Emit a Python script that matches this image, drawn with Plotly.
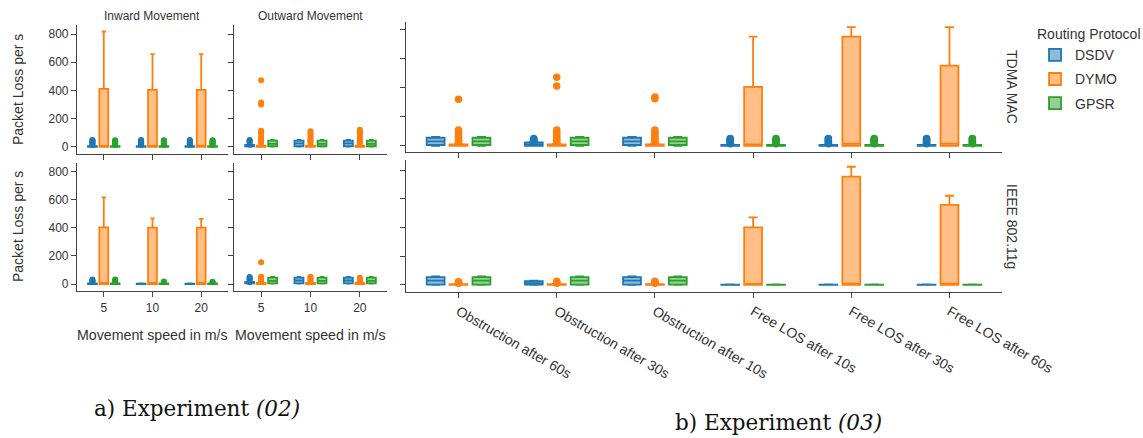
import plotly.graph_objects as go

W, H = 1143, 438

protocols = ["DSDV", "DYMO", "GPSR"]
line_colors = {"DSDV": "#1f77b4", "DYMO": "#ff7f0e", "GPSR": "#2ca02c"}
fill_colors = {"DSDV": "rgba(31,119,180,0.5)", "DYMO": "rgba(255,127,14,0.5)",
               "GPSR": "rgba(44,160,44,0.5)"}

speeds = ["5", "10", "20"]
scenarios = ["Obstruction after 60s", "Obstruction after 30s", "Obstruction after 10s",
             "Free LOS after 10s", "Free LOS after 30s", "Free LOS after 60s"]

# Experiment (02), TDMA MAC, inward movement (one entry per speed)
e02_tdma_in = {
    "DSDV": dict(q1=[0, 0, 0], med=[2, 2, 2], q3=[5, 5, 5], lo=[0, 0, 0], hi=[8, 8, 8],
                 out=[[14, 20, 26, 32, 38, 44, 50], [14, 20, 26, 32, 38, 44, 50], [14, 20, 26, 32, 38, 44, 50]]),
    "DYMO": dict(q1=[0, 0, 0], med=[4, 4, 4], q3=[412, 405, 405], lo=[0, 0, 0], hi=[818, 658, 658],
                 out=[[], [], []]),
    "GPSR": dict(q1=[0, 0, 0], med=[2, 2, 2], q3=[5, 5, 5], lo=[0, 0, 0], hi=[8, 8, 8],
                 out=[[14, 20, 26, 32, 38, 44, 48], [14, 20, 26, 32, 38, 44, 48], [14, 20, 26, 32, 38, 44, 48]]),
}
# Experiment (02), TDMA MAC, outward movement
e02_tdma_out = {
    "DSDV": dict(q1=[5, 5, 5], med=[10, 25, 25], q3=[15, 45, 45], lo=[0, 3, 3], hi=[20, 50, 50],
                 out=[[28, 36, 44, 50], [], []]),
    "DYMO": dict(q1=[0, 0, 0], med=[5, 5, 5], q3=[10, 10, 10], lo=[0, 0, 0], hi=[18, 18, 18],
                 out=[[28, 38, 48, 58, 70, 95, 108, 115, 300, 315, 472],
                      [28, 38, 48, 58, 70, 88, 100, 112],
                      [28, 38, 48, 58, 70, 88, 100, 112, 122]]),
    "GPSR": dict(q1=[5, 5, 5], med=[22, 22, 22], q3=[45, 45, 45], lo=[2, 2, 2], hi=[50, 50, 50],
                 out=[[], [], []]),
}
# Experiment (02), IEEE 802.11g, inward movement
e02_ieee_in = {
    "DSDV": dict(q1=[0, 0, 0], med=[2, 1, 1], q3=[5, 3, 3], lo=[0, 0, 0], hi=[8, 4, 4],
                 out=[[14, 20, 26, 32], [], []]),
    "DYMO": dict(q1=[0, 0, 0], med=[4, 4, 4], q3=[405, 403, 403], lo=[0, 0, 0], hi=[618, 468, 465],
                 out=[[], [], []]),
    "GPSR": dict(q1=[0, 0, 0], med=[2, 2, 2], q3=[5, 5, 5], lo=[0, 0, 0], hi=[8, 8, 8],
                 out=[[14, 20, 26, 32], [12, 18], [12, 16]]),
}
# Experiment (02), IEEE 802.11g, outward movement
e02_ieee_out = {
    "DSDV": dict(q1=[5, 5, 5], med=[10, 25, 25], q3=[15, 45, 45], lo=[0, 3, 3], hi=[20, 50, 50],
                 out=[[28, 36, 44, 50], [], []]),
    "DYMO": dict(q1=[0, 0, 0], med=[3, 3, 3], q3=[8, 8, 8], lo=[0, 0, 0], hi=[12, 12, 12],
                 out=[[20, 28, 36, 44, 52, 155], [20, 28, 36, 44, 52], [20, 28, 36, 44]]),
    "GPSR": dict(q1=[5, 5, 5], med=[22, 22, 22], q3=[45, 45, 45], lo=[2, 2, 2], hi=[50, 50, 50],
                 out=[[], [], []]),
}
# Experiment (03), TDMA MAC (one entry per scenario)
e03_tdma = {
    "DSDV": dict(q1=[5, 0, 5, 0, 0, 0], med=[30, 10, 30, 2, 2, 2], q3=[55, 23, 55, 5, 5, 5],
                 lo=[0, 0, 0, 0, 0, 0], hi=[60, 28, 60, 8, 8, 8],
                 out=[[], [34, 42, 50], [], [14, 22, 30, 38, 46, 50],
                      [14, 22, 30, 38, 46, 50], [14, 22, 30, 38, 46, 50]]),
    "DYMO": dict(q1=[0, 0, 0, 0, 0, 0], med=[4, 4, 4, 10, 15, 15], q3=[10, 10, 10, 405, 750, 550],
                 lo=[0, 0, 0, 0, 0, 0], hi=[15, 15, 15, 750, 815, 815],
                 out=[[25, 38, 52, 66, 80, 95, 108, 320],
                      [25, 38, 52, 66, 80, 95, 108, 410, 470],
                      [25, 38, 52, 66, 80, 95, 108, 322, 335], [], [], []]),
    "GPSR": dict(q1=[5, 5, 5, 0, 0, 0], med=[30, 30, 30, 2, 2, 2], q3=[55, 55, 55, 5, 5, 5],
                 lo=[0, 0, 0, 0, 0, 0], hi=[60, 60, 60, 8, 8, 8],
                 out=[[], [], [], [14, 22, 30, 38, 46, 50],
                      [14, 22, 30, 38, 46, 50], [14, 22, 30, 38, 46, 50]]),
}
# Experiment (03), IEEE 802.11g
e03_ieee = {
    "DSDV": dict(q1=[3, 2, 3, 0, 0, 0], med=[30, 12, 30, 1, 1, 1], q3=[55, 27, 55, 3, 3, 3],
                 lo=[0, 0, 0, 0, 0, 0], hi=[60, 30, 60, 4, 4, 4],
                 out=[[], [], [], [], [], []]),
    "DYMO": dict(q1=[0, 0, 0, 0, 0, 0], med=[2, 2, 2, 8, 10, 10], q3=[5, 5, 5, 401, 754, 557],
                 lo=[0, 0, 0, 0, 0, 0], hi=[8, 8, 8, 471, 823, 621],
                 out=[[12, 18, 22], [12, 18, 26], [12, 18, 26], [], [], []]),
    "GPSR": dict(q1=[3, 3, 3, 0, 0, 0], med=[30, 30, 30, 1, 1, 1], q3=[55, 55, 55, 3, 3, 3],
                 lo=[0, 0, 0, 0, 0, 0], hi=[60, 60, 60, 4, 4, 4],
                 out=[[], [], [], [], [], []]),
}

panels = [
    (e02_tdma_in, speeds, "x", "y", 6),
    (e02_tdma_out, speeds, "x2", "y2", 6),
    (e02_ieee_in, speeds, "x3", "y3", 6),
    (e02_ieee_out, speeds, "x4", "y4", 6),
    (e03_tdma, scenarios, "x5", "y5", 7.5),
    (e03_ieee, scenarios, "x6", "y6", 7.5),
]

fig = go.Figure()
for pi, (data, cats, xa, ya, msize) in enumerate(panels):
    # boxes from the summary statistics
    for p in protocols:
        d = data[p]
        fig.add_trace(go.Box(
            x=cats, q1=d["q1"], median=d["med"], q3=d["q3"],
            lowerfence=d["lo"], upperfence=d["hi"],
            name=p, legendgroup=p, showlegend=(pi == 0),
            offsetgroup=p, alignmentgroup="g%d" % pi,
            boxpoints=False,
            line=dict(color=line_colors[p], width=1.8),
            fillcolor=fill_colors[p], whiskerwidth=0.5,
            xaxis=xa, yaxis=ya, hoverinfo="skip",
        ))
    # outlier points, placed in the same slot as their box
    for p in protocols:
        d = data[p]
        xs = [c for c, vals in zip(cats, d["out"]) for _ in vals]
        ys = [v for vals in d["out"] for v in vals]
        if not ys:
            continue
        fig.add_trace(go.Box(
            x=xs, y=ys, name=p, legendgroup=p, showlegend=False,
            offsetgroup=p, alignmentgroup="g%d" % pi,
            boxpoints="all", pointpos=0, jitter=0,
            marker=dict(color=line_colors[p], size=msize, line=dict(width=0)),
            line=dict(color="rgba(0,0,0,0)", width=0),
            fillcolor="rgba(0,0,0,0)",
            xaxis=xa, yaxis=ya, hoverinfo="skip",
        ))


def px_x(a, b):
    return [a / W, b / W]


def px_y(top, bottom):
    return [1 - bottom / H, 1 - top / H]


AX = dict(showline=True, linecolor="#444", linewidth=1.2, ticks="outside", ticklen=5,
          tickcolor="#444", tickwidth=1.2, showgrid=False, zeroline=False,
          tickfont=dict(size=12, color="#333"), automargin=False)

yt = dict(tickvals=[0, 200, 400, 600, 800])
fig.update_layout(
    xaxis=dict(AX, domain=px_x(77, 228), anchor="y", range=[-0.55, 2.55], showticklabels=False),
    yaxis=dict(AX, **yt, domain=px_y(25, 154), anchor="x", range=[-50, 864]),
    xaxis2=dict(AX, domain=px_x(234, 387), anchor="y2", range=[-0.55, 2.55], showticklabels=False),
    yaxis2=dict(AX, **yt, domain=px_y(25, 154), anchor="x2", range=[-50, 864], showticklabels=False),
    xaxis3=dict(AX, domain=px_x(77, 228), anchor="y3", range=[-0.55, 2.55]),
    yaxis3=dict(AX, **yt, domain=px_y(163, 291), anchor="x3", range=[-50, 864]),
    xaxis4=dict(AX, domain=px_x(234, 387), anchor="y4", range=[-0.55, 2.55]),
    yaxis4=dict(AX, **yt, domain=px_y(163, 291), anchor="x4", range=[-50, 864], showticklabels=False),
    xaxis5=dict(AX, domain=px_x(406, 1002), anchor="y5", range=[-0.535, 5.535], showticklabels=False),
    yaxis5=dict(AX, **yt, domain=px_y(22, 152), anchor="x5", range=[-43, 850], showticklabels=False),
    xaxis6=dict(AX, domain=px_x(406, 1002), anchor="y6", range=[-0.535, 5.535], tickangle=30,
                tickfont=dict(size=14, color="#333")),
    yaxis6=dict(AX, **yt, domain=px_y(160, 292), anchor="x6", range=[-49, 870], showticklabels=False),
)

fig.update_layout(
    width=W, height=H, autosize=False,
    margin=dict(l=0, r=0, t=0, b=0, pad=0),
    paper_bgcolor="white", plot_bgcolor="white",
    font=dict(family="Liberation Sans, Arial, sans-serif", color="#333"),
    boxmode="group", boxgap=0.3, boxgroupgap=0.22,
    legend=dict(x=1.0, y=1 - 21 / H, xanchor="right", yanchor="top",
                title=dict(text="Routing Protocol", font=dict(size=14, color="#333")),
                font=dict(size=14, color="#333"), tracegroupgap=3, bgcolor="rgba(0,0,0,0)"),
)


def ann(text, x, y, size, angle=0, family=None, color="#333", xanchor="center"):
    f = dict(size=size, color=color)
    if family:
        f["family"] = family
    fig.add_annotation(text=text, x=x / W, y=1 - y / H, xref="paper", yref="paper",
                       showarrow=False, xanchor=xanchor, yanchor="middle",
                       textangle=angle, font=f)


ann("Inward Movement", 152, 16, 12)
ann("Outward Movement", 310, 16, 12)
ann("Packet Loss per s", 18, 90, 14, angle=-90)
ann("Packet Loss per s", 18, 227, 14, angle=-90)
ann("Movement speed in m/s", 152, 335, 14.2)
ann("Movement speed in m/s", 310, 335, 14.2)
ann("TDMA MAC", 1012, 87, 14, angle=90)
ann("IEEE 802.11g", 1012, 226, 14, angle=90)
ann("a) Experiment <i>(02)</i>", 92, 408, 21.5, family="DejaVu Serif, serif", color="#111", xanchor="left")
ann("b) Experiment <i>(03)</i>", 673, 422, 21.5, family="DejaVu Serif, serif", color="#111", xanchor="left")

fig.write_html("out.html")
